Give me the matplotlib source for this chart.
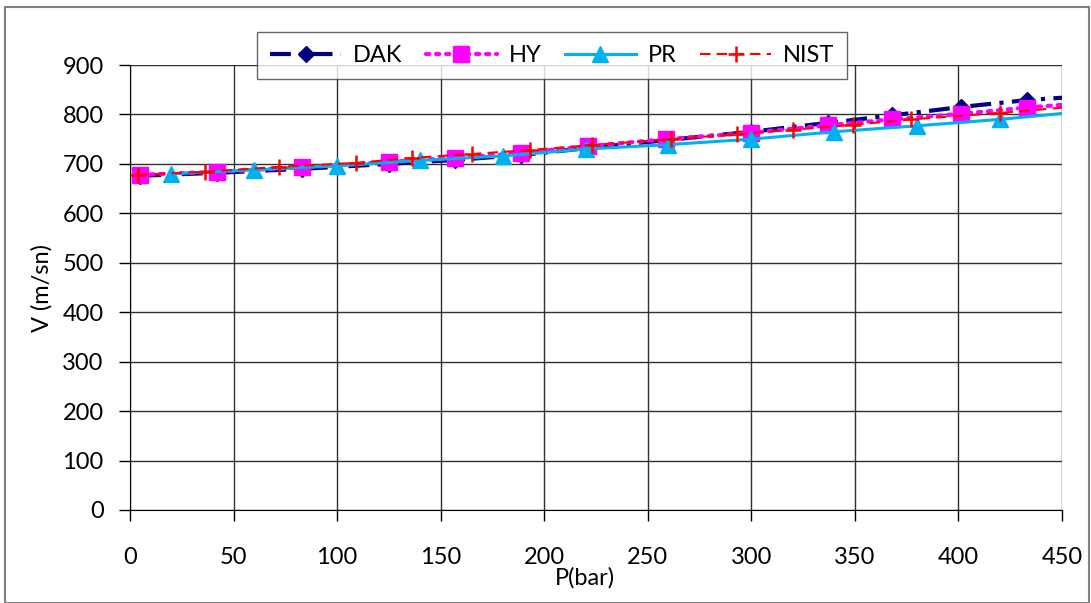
import numpy as np
import matplotlib
matplotlib.use("Agg")
import matplotlib.pyplot as plt
from matplotlib.patches import Rectangle

plt.rcParams["font.family"] = ["Lato", "DejaVu Sans"]

# values
dak_p = [5, 42, 83, 125, 157, 189, 221, 259, 300, 337, 368, 401, 433, 465]
dak_v = [676, 682, 690, 700, 708, 718, 732, 748, 765, 783, 798, 815, 829, 838]

hy_p = [5, 42, 83, 125, 157, 189, 221, 259, 300, 337, 368, 401, 433, 465]
hy_v = [678, 684, 693, 704, 712, 722, 736, 750, 763, 778, 790, 801, 814, 824]

pr_p = [20, 60, 100, 140, 180, 220, 260, 300, 340, 380, 420, 460]
pr_v = [680, 688, 696, 707, 716, 730, 739, 750, 765, 777, 790, 806]

nist_p = [4, 36, 72, 109, 136, 165, 193, 223, 261, 293, 320, 349, 377, 420, 465]
nist_v = [678, 684, 694, 702, 712, 720, 728, 738, 750, 760, 769, 779, 790, 803, 819]

x_ticks = np.arange(0, 451, 50)
y_ticks = np.arange(0, 901, 100)

fig = plt.figure(figsize=(10.91, 6.03), dpi=100)
ax = fig.add_axes([130 / 1091, 93 / 603, 932 / 1091, 445 / 603])

ax.plot(dak_p, dak_v, color="#000080", lw=3, linestyle=(0, (5, 2, 1, 2)),
        marker="D", ms=8, label="DAK", zorder=3)
ax.plot(hy_p, hy_v, color="#FF00FF", lw=3, linestyle=(0, (0.8, 1.6)),
        marker="s", ms=12, label="HY", zorder=4, dash_capstyle="round")
ax.plot(pr_p, pr_v, color="#00B0F0", lw=2.2, linestyle="-",
        marker="^", ms=12, label="PR", zorder=5)
ax.plot(nist_p, nist_v, color="#FF0000", lw=1.5, linestyle=(0, (5, 3)),
        marker="+", ms=12, mew=1.8, label="NIST", zorder=6)

ax.set_xlim(0, 450)
ax.set_ylim(0, 900)
ax.set_xticks(x_ticks)
ax.set_yticks(y_ticks)
ax.grid(True, color="#303030", lw=1)
ax.set_axisbelow(True)
ax.tick_params(axis="both", direction="out", length=8, width=1, labelsize=17,
               color="black")
ax.tick_params(axis="x", pad=19)
ax.tick_params(axis="y", pad=11)
for s in ["top", "right"]:
    ax.spines[s].set_visible(False)
for s in ["left", "bottom"]:
    ax.spines[s].set_color("black")

ax.set_xlabel("P(bar)", fontsize=17)
ax.xaxis.set_label_coords(0.488, -0.128)
ax.set_ylabel("V (m/sn)", fontsize=17)
ax.yaxis.set_label_coords(-0.083, 0.5)

leg = ax.legend(loc="upper center", bbox_to_anchor=(0.453, 1.101), ncol=4,
                frameon=True, fancybox=False, edgecolor="#404040",
                fontsize=17, handlelength=3.0, columnspacing=1.0,
                borderpad=0.55, handletextpad=0.5)
leg.get_frame().set_linewidth(1)
leg.set_zorder(10)

fig.patches.append(Rectangle((5 / 1091, 0), 1084 / 1091, 596 / 603,
                             transform=fig.transFigure, fill=False,
                             edgecolor="#808080", lw=1.5))

fig.savefig("out.png", dpi=100)
